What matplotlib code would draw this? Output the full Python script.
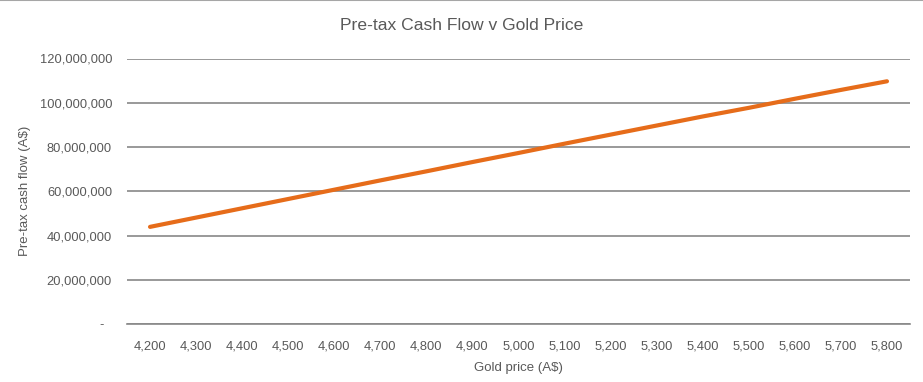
import matplotlib
matplotlib.use("Agg")
import matplotlib.pyplot as plt
from matplotlib.lines import Line2D

gold_price = [4200, 4300, 4400, 4500, 4600, 4700, 4800, 4900, 5000,
              5100, 5200, 5300, 5400, 5500, 5600, 5700, 5800]
cash_flow = [43.9e6, 48.1e6, 52.3e6, 56.5e6, 60.7e6, 64.9e6, 69.0e6, 73.2e6, 77.3e6,
             81.5e6, 85.6e6, 89.7e6, 93.8e6, 97.7e6, 101.8e6, 105.8e6, 109.7e6]
y_ticks = [0, 20e6, 40e6, 60e6, 80e6, 100e6, 120e6]

plt.rcParams['font.family'] = ['Liberation Sans', 'DejaVu Sans']
txt = '#595959'

fig = plt.figure(figsize=(9.23, 3.82), dpi=100)
ax = fig.add_axes([127/923, 1-324/382, (910-127)/923, (324-58.5)/382])

x = list(range(len(gold_price)))
ax.plot(x, cash_flow, color='#E66C1A', lw=3.0, solid_capstyle='round', zorder=3)

ax.set_xlim(-0.5, len(gold_price)-0.5)
ax.set_ylim(0, 120e6)
ax.set_xticks(x)
ax.set_xticklabels([f"{g:,}" for g in gold_price])
ax.set_yticks(y_ticks)
ax.set_yticklabels([f"{int(v):,}" if v else "-  " for v in y_ticks])
ax.tick_params(axis='both', length=0, labelsize=9.3, colors=txt)
ax.tick_params(axis='y', pad=10.8)
ax.tick_params(axis='x', pad=12)

ax.grid(axis='y', color='#888888', lw=1.2)
ax.set_axisbelow(True)
for s in ['top', 'right', 'left']:
    ax.spines[s].set_visible(False)
ax.spines['bottom'].set_color('#888888')
ax.spines['bottom'].set_linewidth(1.2)

ax.set_xlabel('Gold price (A$)', fontsize=9.5, color=txt, labelpad=7)
ax.set_ylabel('Pre-tax cash flow (A$)', fontsize=9.5, color=txt, labelpad=6)
fig.text(0.5, 1-26/382, 'Pre-tax Cash Flow v Gold Price', ha='center', va='center',
         fontsize=12.6, color=txt)

fig.add_artist(Line2D([0, 1], [0.999, 0.999], transform=fig.transFigure, color='#a6a6a6', lw=1.5))

fig.savefig('out.png', dpi=100)
